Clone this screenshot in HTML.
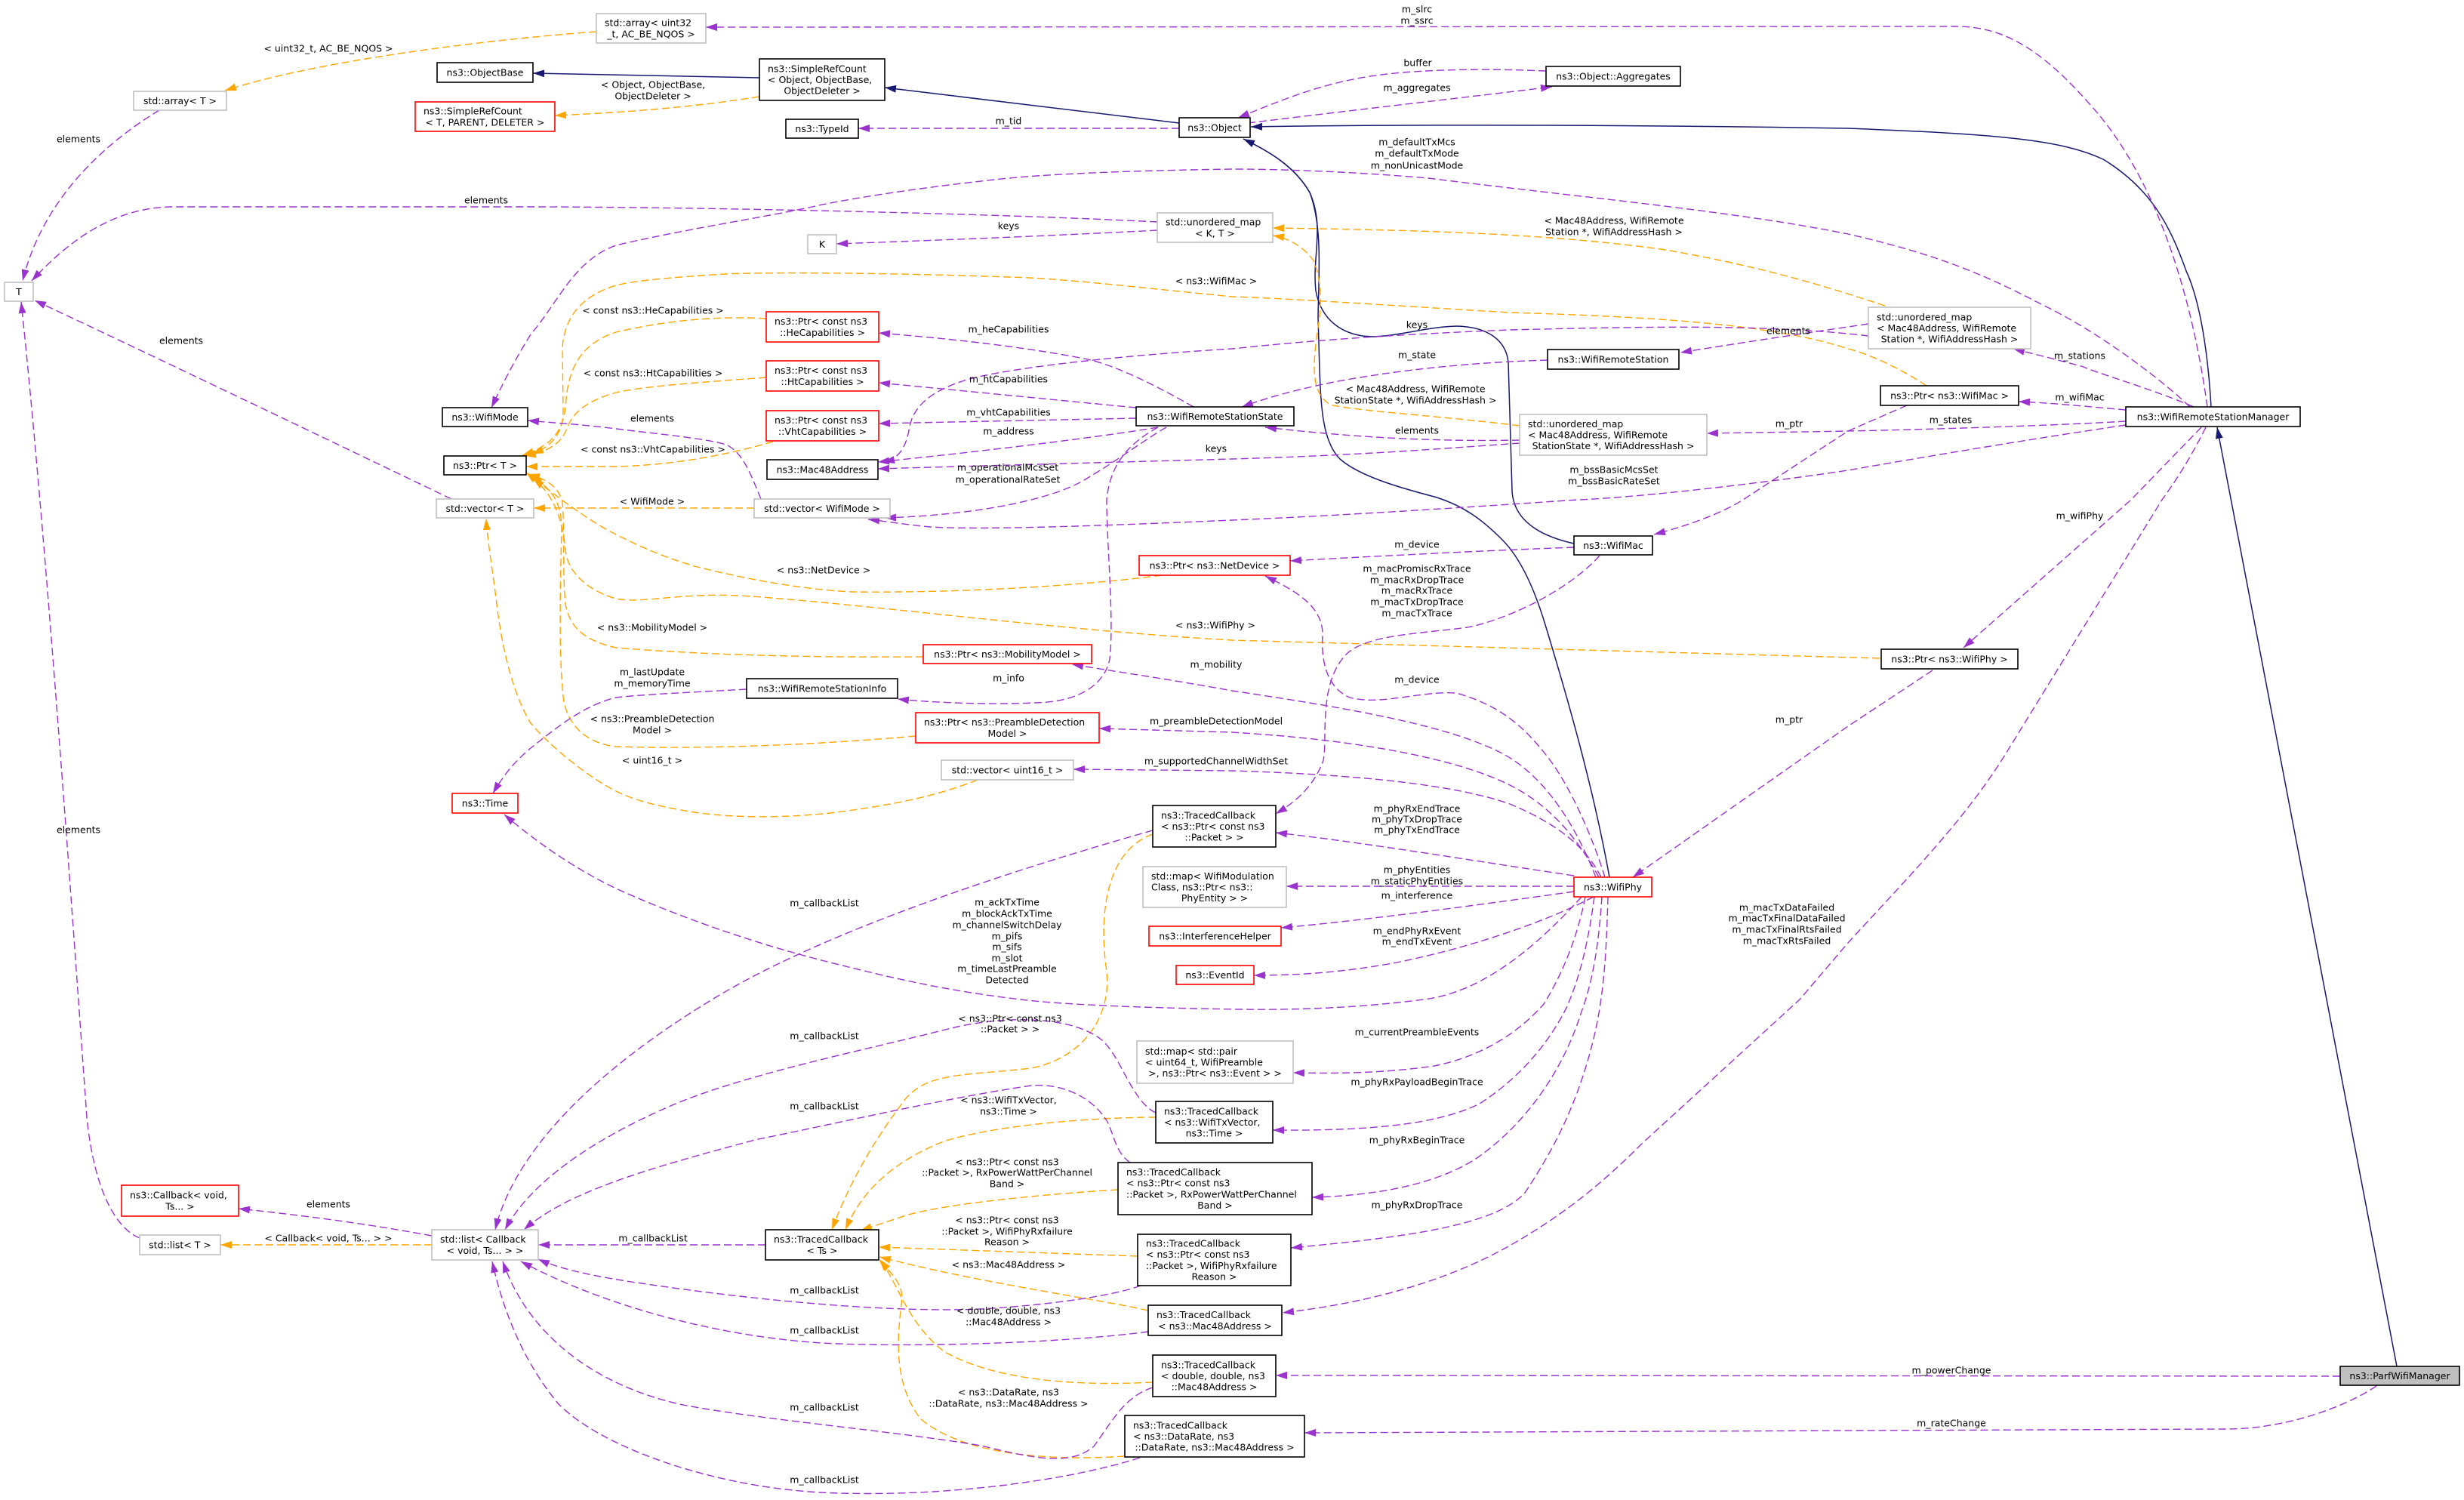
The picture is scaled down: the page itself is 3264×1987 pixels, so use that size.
<!DOCTYPE html>
<html><head><meta charset="utf-8"><style>
html,body{margin:0;padding:0;background:#fff;}
svg{display:block;}
text{font-family:"DejaVu Sans","Liberation Sans",sans-serif;font-size:12.5px;fill:#000;}
.c{text-anchor:middle;}
.s{text-anchor:start;}
.p{fill:none;stroke:#9a32cd;stroke-width:1.4;stroke-dasharray:10,5;marker-end:url(#ap);}
.o{fill:none;stroke:#ffa500;stroke-width:1.4;stroke-dasharray:10,5;marker-end:url(#ao);}
.n{fill:none;stroke:#191970;stroke-width:1.5;marker-end:url(#an);}
.nn{fill:none;stroke:#191970;stroke-width:1.5;}
.bk{fill:#fff;stroke:#000;stroke-width:1.6;}
.rd{fill:#fff;stroke:#ff0000;stroke-width:1.6;}
.gy{fill:#fff;stroke:#bfbfbf;stroke-width:1.6;}
.pf{fill:#bfbfbf;stroke:#000;stroke-width:1.6;}
</style></head><body>
<svg width="3264" height="1987" viewBox="0 0 3264 1987" xmlns="http://www.w3.org/2000/svg">
<defs>
<marker id="ap" viewBox="0 0 15 10" refX="15" refY="5" markerWidth="15" markerHeight="10" markerUnits="userSpaceOnUse" orient="auto"><path d="M0,0L15,5L0,10z" fill="#9a32cd"/></marker>
<marker id="ao" viewBox="0 0 15 10" refX="15" refY="5" markerWidth="15" markerHeight="10" markerUnits="userSpaceOnUse" orient="auto"><path d="M0,0L15,5L0,10z" fill="#ffa500"/></marker>
<marker id="an" viewBox="0 0 15 10" refX="15" refY="5" markerWidth="15" markerHeight="10" markerUnits="userSpaceOnUse" orient="auto"><path d="M0,0L15,5L0,10z" fill="#191970"/></marker>
</defs>
<rect x="0" y="0" width="3264" height="1987" fill="#fff"/>

<!-- ===== EDGES ===== -->
<!-- navy inheritance -->
<path class="n" d="M1006,103 L706,97"/>
<path class="n" d="M1562,163 L1172,116"/>
<path class="nn" d="M2085,720 C2040,710 2005,690 2003,650 L1998,480 C1995,450 1970,433 1930,432 C1890,433 1860,444 1820,446 C1780,446 1750,425 1743,385 C1738,340 1755,300 1735,255 C1715,220 1680,200 1647,184"/>
<path class="n" d="M2132,1162 C2110,1040 2075,920 2048,831 C2030,770 2010,735 1990,715 C1965,690 1940,670 1900,658 C1850,645 1800,630 1775,608 C1752,585 1750,540 1748,490 L1746,420 C1747,360 1752,300 1735,255 C1715,220 1680,200 1647,184"/>
<path class="n" d="M2929,539 C2925,470 2915,400 2896,359 C2875,300 2850,250 2786,211 C2730,185 2650,178 2448,170 C2200,166 1900,164 1657,168"/>
<path class="n" d="M3175,1810 L2937,566"/>

<!-- orange template edges -->
<path class="o" d="M1006,128 C900,145 800,150 735,153"/>
<path class="o" d="M790,42 C650,52 420,80 298,120"/>
<path class="o" d="M572,1649 L292,1649"/>
<path class="o" d="M999,673 L707,673"/>
<path class="o" d="M2497,405 C2450,390 2350,355 2200,330 C2050,310 1900,305 1686,302"/>
<path class="o" d="M2013,564 C1900,550 1800,545 1762,536 C1735,520 1740,480 1745,440 C1752,400 1750,370 1740,345 C1725,325 1705,315 1686,312"/>
<path class="o" d="M2552,511 C2520,490 2480,470 2448,462 C2350,430 2200,420 2000,414 C1800,402 1700,395 1632,393 C1500,380 1400,368 1336,367 C1200,362 1024,360 960,363 C880,368 840,372 816,378 C770,392 748,420 745,460 L746,540 C747,570 735,590 705,601"/>
<path class="o" d="M1015,422 C950,418 880,425 816,440 C780,452 755,475 750,528 C748,565 738,588 692,603"/>
<path class="o" d="M1015,500 C920,507 850,512 816,520 C780,530 760,545 752,565 C745,585 730,598 695,604"/>
<path class="o" d="M1024,585 C972,600 900,616 816,618 L697,618"/>
<path class="o" d="M1539,762 C1467,772 1300,786 1128,784 C1050,780 972,763 920,750 C870,735 840,720 816,708 C780,690 740,660 697,626"/>
<path class="o" d="M1223,870 C1100,871 950,869 816,858 C780,850 755,835 749,800 C745,760 748,700 745,665 C740,645 725,635 700,628"/>
<path class="o" d="M1213,975 C1100,985 950,993 816,989 C780,985 755,965 747,930 C740,880 742,780 744,700 C744,665 730,645 703,632"/>
<path class="o" d="M2490,872 L1632,848 C1400,835 1150,800 980,789 C900,785 850,800 816,793 C780,783 755,760 750,735 C746,700 740,660 706,634"/>
<path class="o" d="M1295,1033 C1240,1055 1180,1067 1100,1077 C1024,1085 960,1082 920,1076 C870,1068 840,1060 816,1048 C780,1030 730,990 703,958 C680,920 665,860 658,800 C652,750 646,720 644,687"/>
<path class="o" d="M1527,1105 C1470,1125 1455,1200 1465,1280 C1475,1340 1440,1400 1366,1415 C1280,1425 1230,1420 1200,1455 C1150,1520 1120,1580 1102,1629"/>
<path class="o" d="M1531,1480 C1450,1480 1320,1490 1250,1512 C1180,1540 1140,1580 1120,1629"/>
<path class="o" d="M1481,1576 C1380,1582 1250,1595 1200,1610 C1170,1620 1155,1625 1140,1630"/>
<path class="o" d="M1507,1664 L1164,1652"/>
<path class="o" d="M1521,1736 C1450,1720 1300,1700 1165,1665"/>
<path class="o" d="M1527,1831 C1430,1836 1320,1830 1250,1790 C1200,1750 1190,1700 1165,1668"/>
<path class="o" d="M1490,1929 C1400,1935 1280,1930 1220,1880 C1180,1830 1190,1760 1195,1720 C1195,1700 1180,1685 1165,1670"/>

<!-- purple member edges -->
<path class="p" d="M1562,170 L1137,170"/>
<path class="p" d="M2924,539 C2905,400 2860,240 2770,140 C2700,60 2650,35 2590,35 L935,36"/>
<path class="p" d="M211,146 C130,195 55,270 30,372"/>
<path class="p" d="M1533,294 C1300,282 900,274 700,274 L230,274 C150,274 90,320 42,372"/>
<path class="p" d="M598,661 C450,590 200,470 46,398"/>
<path class="p" d="M185,1640 C155,1628 125,1580 115,1480 C95,1200 60,700 28,400"/>
<path class="p" d="M1533,305 C1400,312 1250,318 1108,323"/>
<path class="p" d="M572,1637 C480,1620 400,1610 316,1601"/>
<path class="p" d="M1014,1649 L713,1649"/>
<path class="p" d="M1527,1100 C1350,1150 1100,1230 950,1320 C750,1440 675,1550 656,1629"/>
<path class="p" d="M1531,1474 C1500,1460 1485,1400 1460,1378 C1420,1345 1330,1345 1260,1362 C1150,1390 1000,1420 900,1460 C780,1510 700,1570 669,1629"/>
<path class="p" d="M1497,1540 C1475,1525 1475,1495 1463,1480 C1440,1448 1400,1435 1366,1438 C1250,1455 1100,1490 1000,1510 C850,1550 750,1580 694,1629"/>
<path class="p" d="M1511,1703 C1480,1715 1400,1728 1300,1734 C1150,1740 950,1715 850,1700 C780,1690 740,1680 713,1668"/>
<path class="p" d="M1521,1764 C1400,1780 1200,1785 1088,1779 C950,1770 800,1730 690,1671"/>
<path class="p" d="M1527,1838 C1490,1850 1475,1880 1449,1916 C1420,1940 1380,1935 1300,1915 C1180,1895 1000,1880 900,1860 C790,1835 700,1770 666,1671"/>
<path class="p" d="M1510,1931 C1420,1960 1250,1985 1088,1977 C950,1970 800,1920 740,1860 C690,1800 665,1730 652,1671"/>
<path class="p" d="M2085,1160 C1950,1140 1800,1115 1690,1103"/>
<path class="p" d="M2119,736 C2080,780 2000,820 1944,831 C1880,840 1800,840 1778,873 C1745,915 1760,990 1752,1010 C1740,1040 1720,1060 1690,1078"/>
<path class="p" d="M2085,1174 L1704,1174"/>
<path class="p" d="M2085,1181 C1950,1200 1800,1220 1697,1229"/>
<path class="p" d="M2111,1188 C2050,1220 1950,1255 1850,1275 C1780,1288 1720,1292 1661,1292"/>
<path class="p" d="M2100,1188 C2090,1240 2070,1290 2045,1330 C2010,1370 1960,1400 1900,1412 C1830,1422 1770,1422 1713,1421"/>
<path class="p" d="M2112,1188 C2105,1240 2095,1290 2075,1335 C2050,1385 2010,1430 1960,1462 C1900,1492 1800,1498 1686,1497"/>
<path class="p" d="M2122,1188 C2118,1250 2110,1300 2095,1340 C2070,1420 2020,1490 1955,1535 C1900,1570 1820,1584 1738,1586"/>
<path class="p" d="M2130,1188 C2128,1260 2125,1320 2110,1380 C2090,1460 2060,1520 2020,1580 C1980,1625 1850,1640 1710,1653"/>
<path class="p" d="M2095,1188 C2030,1260 1960,1315 1886,1324 C1800,1335 1720,1338 1643,1337 C1500,1335 1400,1330 1352,1324 C1250,1312 1180,1295 1100,1275 C1000,1250 900,1215 816,1177 C760,1150 710,1115 668,1079"/>
<path class="p" d="M2121,1162 C2100,1120 2060,1090 2000,1065 C1930,1040 1800,1026 1632,1021 L1422,1019"/>
<path class="p" d="M2118,1162 C2095,1120 2060,1070 2000,1040 C1930,1005 1800,980 1632,970 L1456,965"/>
<path class="p" d="M2114,1162 C2090,1100 2050,1030 1990,998 C1920,962 1800,940 1632,915 C1550,900 1480,890 1420,880"/>
<path class="p" d="M2126,1162 C2110,1110 2080,1040 2048,1000 C2020,965 1990,935 1929,918 C1880,915 1830,935 1788,924 C1755,910 1750,870 1752,840 C1752,800 1710,780 1676,763"/>
<path class="p" d="M2085,725 C1950,730 1800,738 1709,743"/>
<path class="p" d="M3100,1823 L1690,1822"/>
<path class="p" d="M3148,1836 C3100,1868 3020,1893 2950,1893 L1728,1898"/>
<path class="p" d="M2922,566 C2900,610 2880,640 2864,662 L2656,1000 C2600,1090 2520,1170 2448,1249 L2384,1324 L2176,1514 C2120,1570 2070,1610 2000,1650 C1920,1695 1820,1725 1699,1739"/>
<path class="p" d="M2916,566 L2823,662 L2601,858"/>
<path class="p" d="M2560,888 L2448,962 L2163,1162"/>
<path class="p" d="M2475,429 C2400,440 2300,455 2226,467"/>
<path class="p" d="M2013,583 C1900,585 1800,580 1676,566"/>
<path class="p" d="M2013,587 C1900,595 1800,603 1632,608 C1450,613 1300,617 1163,621"/>
<path class="p" d="M2475,445 C2350,430 2200,432 2000,437 C1800,445 1700,455 1632,462 C1500,470 1350,485 1284,502 C1230,518 1210,540 1205,565 C1200,595 1190,608 1170,612"/>
<path class="p" d="M2050,477 C1950,480 1850,490 1762,507 C1700,520 1670,530 1645,539"/>
<path class="p" d="M1581,539 C1530,510 1480,485 1441,476 C1350,458 1250,448 1164,441"/>
<path class="p" d="M1505,540 C1400,530 1280,518 1164,507"/>
<path class="p" d="M1505,554 L1164,561"/>
<path class="p" d="M1534,566 C1450,580 1300,598 1163,612"/>
<path class="p" d="M1545,566 C1520,580 1480,610 1441,633 C1400,660 1300,682 1172,686"/>
<path class="p" d="M1534,566 C1490,590 1470,620 1466,662 C1466,720 1476,820 1470,873 C1465,900 1440,925 1388,930 C1330,934 1250,932 1189,926"/>
<path class="p" d="M989,913 C900,918 850,920 816,924 C770,935 730,970 703,991 C680,1010 665,1030 653,1051"/>
<path class="p" d="M2901,539 C2860,500 2780,440 2708,405 C2640,370 2580,340 2448,310 C2300,280 2100,262 1892,236 C1800,228 1700,224 1632,224 C1500,226 1400,230 1336,236 C1200,250 1100,268 1076,274 C1000,290 900,305 816,325 C760,345 740,400 703,443 C680,480 665,510 651,540"/>
<path class="p" d="M1008,661 C995,630 985,600 962,589 C930,580 880,576 816,568 C770,562 730,560 699,557"/>
<path class="p" d="M2816,563 C2700,580 2550,605 2448,623 C2300,645 2150,660 2090,662 C2000,668 1800,682 1632,689 C1450,697 1300,702 1232,698 C1200,695 1170,690 1150,688"/>
<path class="p" d="M2816,558 C2700,565 2500,570 2448,571 C2400,572 2320,573 2261,574"/>
<path class="p" d="M2816,543 C2760,538 2720,534 2674,532"/>
<path class="p" d="M2906,539 C2850,515 2780,495 2760,486 C2720,475 2690,468 2667,462"/>
<path class="p" d="M2526,537 L2448,571 L2309,662 C2280,680 2240,695 2191,708"/>
<path class="p" d="M1653,163 C1800,145 1950,128 2056,115"/>
<path class="p" d="M2048,94 C1950,90 1850,92 1788,106 C1730,118 1680,140 1640,156"/>

<!-- ===== NODES ===== -->
<rect class="gy" x="790" y="18" width="145" height="39"/>
<text class="s" x="801" y="34.7">std::array&lt; uint32</text><text class="c" x="862.5" y="49.3">_t, AC_BE_NQOS &gt;</text>

<rect class="gy" x="177" y="121" width="123" height="25"/>
<text class="c" x="238.5" y="138">std::array&lt; T &gt;</text>

<rect class="bk" x="579" y="83" width="127" height="26"/>
<text class="c" x="642.5" y="100.5">ns3::ObjectBase</text>

<rect class="rd" x="550" y="135" width="185" height="39"/>
<text class="s" x="561" y="151.7">ns3::SimpleRefCount</text><text class="c" x="642.5" y="166.3">&lt; T, PARENT, DELETER &gt;</text>

<rect class="bk" x="1006" y="78" width="166" height="55"/>
<text class="s" x="1017" y="95.4">ns3::SimpleRefCount</text><text class="s" x="1017" y="110">&lt; Object, ObjectBase,</text><text class="c" x="1089" y="124.6">ObjectDeleter &gt;</text>

<rect class="bk" x="1041" y="158" width="96" height="25"/>
<text class="c" x="1089" y="175">ns3::TypeId</text>

<rect class="bk" x="1562" y="156" width="94" height="26"/>
<text class="c" x="1609" y="173.5">ns3::Object</text>

<rect class="bk" x="2048" y="88" width="178" height="26"/>
<text class="c" x="2137" y="105.5">ns3::Object::Aggregates</text>

<rect class="gy" x="6" y="374" width="38" height="25"/>
<text class="c" x="25" y="391">T</text>

<rect class="gy" x="1070" y="311" width="38" height="25"/>
<text class="c" x="1089" y="328">K</text>

<rect class="gy" x="1533" y="282" width="153" height="39"/>
<text class="s" x="1544" y="298.7">std::unordered_map</text><text class="c" x="1609.5" y="313.3">&lt; K, T &gt;</text>

<rect class="gy" x="2475" y="407" width="215" height="55"/>
<text class="s" x="2486" y="424.4">std::unordered_map</text><text class="s" x="2486" y="439">&lt; Mac48Address, WifiRemote</text><text class="c" x="2582.5" y="453.6">Station *, WifiAddressHash &gt;</text>

<rect class="bk" x="2050" y="463" width="174" height="26"/>
<text class="c" x="2137" y="480.5">ns3::WifiRemoteStation</text>

<rect class="bk" x="2491" y="511" width="183" height="26"/>
<text class="c" x="2582.5" y="528.5">ns3::Ptr&lt; ns3::WifiMac &gt;</text>

<rect class="bk" x="2816" y="539" width="231" height="26"/>
<text class="c" x="2931.5" y="556.5">ns3::WifiRemoteStationManager</text>

<rect class="gy" x="2013" y="549" width="248" height="54"/>
<text class="s" x="2024" y="565.9">std::unordered_map</text><text class="s" x="2024" y="580.5">&lt; Mac48Address, WifiRemote</text><text class="c" x="2137" y="595.1">StationState *, WifiAddressHash &gt;</text>

<rect class="bk" x="1505" y="539" width="209" height="25"/>
<text class="c" x="1609.5" y="556">ns3::WifiRemoteStationState</text>

<rect class="rd" x="1015" y="413" width="149" height="40"/>
<text class="s" x="1026" y="430.2">ns3::Ptr&lt; const ns3</text><text class="c" x="1089.5" y="444.8">::HeCapabilities &gt;</text>

<rect class="rd" x="1015" y="478" width="149" height="40"/>
<text class="s" x="1026" y="495.2">ns3::Ptr&lt; const ns3</text><text class="c" x="1089.5" y="509.8">::HtCapabilities &gt;</text>

<rect class="rd" x="1015" y="544" width="149" height="40"/>
<text class="s" x="1026" y="561.2">ns3::Ptr&lt; const ns3</text><text class="c" x="1089.5" y="575.8">::VhtCapabilities &gt;</text>

<rect class="bk" x="1016" y="609" width="147" height="26"/>
<text class="c" x="1089.5" y="626.5">ns3::Mac48Address</text>

<rect class="bk" x="586" y="540" width="113" height="25"/>
<text class="c" x="642.5" y="557">ns3::WifiMode</text>

<rect class="bk" x="588" y="604" width="109" height="25"/>
<text class="c" x="642.5" y="621">ns3::Ptr&lt; T &gt;</text>

<rect class="gy" x="578" y="661" width="129" height="25"/>
<text class="c" x="642.5" y="678">std::vector&lt; T &gt;</text>

<rect class="gy" x="999" y="661" width="180" height="25"/>
<text class="c" x="1089" y="678">std::vector&lt; WifiMode &gt;</text>

<rect class="rd" x="1509" y="736" width="200" height="26"/>
<text class="c" x="1609" y="753.5">ns3::Ptr&lt; ns3::NetDevice &gt;</text>

<rect class="bk" x="2085" y="710" width="104" height="25"/>
<text class="c" x="2137" y="727">ns3::WifiMac</text>

<rect class="bk" x="2492" y="860" width="181" height="26"/>
<text class="c" x="2582.5" y="877.5">ns3::Ptr&lt; ns3::WifiPhy &gt;</text>

<rect class="rd" x="1223" y="854" width="223" height="25"/>
<text class="c" x="1334.5" y="871">ns3::Ptr&lt; ns3::MobilityModel &gt;</text>

<rect class="bk" x="989" y="899" width="200" height="26"/>
<text class="c" x="1089" y="916.5">ns3::WifiRemoteStationInfo</text>

<rect class="rd" x="1213" y="944" width="243" height="40"/>
<text class="s" x="1224" y="961.2">ns3::Ptr&lt; ns3::PreambleDetection</text><text class="c" x="1334.5" y="975.8">Model &gt;</text>

<rect class="gy" x="1247" y="1007" width="175" height="26"/>
<text class="c" x="1334.5" y="1024.5">std::vector&lt; uint16_t &gt;</text>

<rect class="rd" x="599" y="1051" width="87" height="26"/>
<text class="c" x="642.5" y="1068.5">ns3::Time</text>

<rect class="bk" x="1527" y="1067" width="163" height="55"/>
<text class="s" x="1538" y="1084.4">ns3::TracedCallback</text><text class="s" x="1538" y="1099">&lt; ns3::Ptr&lt; const ns3</text><text class="c" x="1608.5" y="1113.6">::Packet &gt; &gt;</text>

<rect class="gy" x="1514" y="1148" width="190" height="54"/>
<text class="s" x="1525" y="1164.9">std::map&lt; WifiModulation</text><text class="s" x="1525" y="1179.5">Class, ns3::Ptr&lt; ns3::</text><text class="c" x="1609" y="1194.1">PhyEntity &gt; &gt;</text>

<rect class="rd" x="1522" y="1227" width="175" height="26"/>
<text class="c" x="1609.5" y="1244.5">ns3::InterferenceHelper</text>

<rect class="rd" x="1558" y="1279" width="103" height="25"/>
<text class="c" x="1609.5" y="1296">ns3::EventId</text>

<rect class="rd" x="2085" y="1162" width="103" height="26"/>
<text class="c" x="2136.5" y="1179.5">ns3::WifiPhy</text>

<rect class="gy" x="1506" y="1379" width="207" height="56"/>
<text class="s" x="1517" y="1396.9">std::map&lt; std::pair</text><text class="s" x="1517" y="1411.5">&lt; uint64_t, WifiPreamble</text><text class="c" x="1609.5" y="1426.1">&gt;, ns3::Ptr&lt; ns3::Event &gt; &gt;</text>

<rect class="bk" x="1531" y="1459" width="155" height="55"/>
<text class="s" x="1542" y="1476.4">ns3::TracedCallback</text><text class="s" x="1542" y="1491">&lt; ns3::WifiTxVector,</text><text class="c" x="1608.5" y="1505.6">ns3::Time &gt;</text>

<rect class="bk" x="1481" y="1540" width="257" height="69"/>
<text class="s" x="1492" y="1557.1">ns3::TracedCallback</text><text class="s" x="1492" y="1571.7">&lt; ns3::Ptr&lt; const ns3</text><text class="s" x="1492" y="1586.3">::Packet &gt;, RxPowerWattPerChannel</text><text class="c" x="1609.5" y="1600.9">Band &gt;</text>

<rect class="bk" x="1507" y="1635" width="203" height="68"/>
<text class="s" x="1518" y="1651.6">ns3::TracedCallback</text><text class="s" x="1518" y="1666.2">&lt; ns3::Ptr&lt; const ns3</text><text class="s" x="1518" y="1680.8">::Packet &gt;, WifiPhyRxfailure</text><text class="c" x="1608.5" y="1695.4">Reason &gt;</text>

<rect class="bk" x="1014" y="1629" width="150" height="40"/>
<text class="s" x="1025" y="1646.2">ns3::TracedCallback</text><text class="c" x="1089" y="1660.8">&lt; Ts &gt;</text>

<rect class="gy" x="572" y="1629" width="141" height="40"/>
<text class="s" x="583" y="1646.2">std::list&lt; Callback</text><text class="c" x="642.5" y="1660.8">&lt; void, Ts... &gt; &gt;</text>

<rect class="rd" x="161" y="1570" width="155" height="41"/>
<text class="s" x="172" y="1587.7">ns3::Callback&lt; void,</text><text class="c" x="238.5" y="1602.3">Ts... &gt;</text>

<rect class="gy" x="185" y="1636" width="107" height="26"/>
<text class="c" x="238.5" y="1653.5">std::list&lt; T &gt;</text>

<rect class="bk" x="1521" y="1729" width="177" height="40"/>
<text class="s" x="1532" y="1746.2">ns3::TracedCallback</text><text class="c" x="1609.5" y="1760.8">&lt; ns3::Mac48Address &gt;</text>

<rect class="bk" x="1527" y="1795" width="163" height="55"/>
<text class="s" x="1538" y="1812.4">ns3::TracedCallback</text><text class="s" x="1538" y="1827">&lt; double, double, ns3</text><text class="c" x="1608.5" y="1841.6">::Mac48Address &gt;</text>

<rect class="bk" x="1490" y="1875" width="238" height="55"/>
<text class="s" x="1501" y="1892.4">ns3::TracedCallback</text><text class="s" x="1501" y="1907">&lt; ns3::DataRate, ns3</text><text class="c" x="1609" y="1921.6">::DataRate, ns3::Mac48Address &gt;</text>

<rect class="pf" x="3100" y="1810" width="158" height="25"/>
<text class="c" x="3179" y="1827">ns3::ParfWifiManager</text>

<!-- ===== EDGE LABELS ===== -->
<g class="lbl">
<text class="c" x="435" y="68.5">&lt; uint32_t, AC_BE_NQOS &gt;</text>
<text class="c" x="104" y="188.5">elements</text>
<text class="c" x="865" y="116.5">&lt; Object, ObjectBase,</text>
<text class="c" x="865" y="131.5">ObjectDeleter &gt;</text>
<text class="c" x="1336" y="164.5">m_tid</text>
<text class="c" x="1877" y="16.5">m_slrc</text>
<text class="c" x="1877" y="31.5">m_ssrc</text>
<text class="c" x="1878" y="87.5">buffer</text>
<text class="c" x="1877" y="120.5">m_aggregates</text>
<text class="c" x="1877" y="192.5">m_defaultTxMcs</text>
<text class="c" x="1877" y="207.5">m_defaultTxMode</text>
<text class="c" x="1877" y="223.5">m_nonUnicastMode</text>
<text class="c" x="644" y="269.5">elements</text>
<text class="c" x="1336" y="303.5">keys</text>
<text class="c" x="2138" y="296.5">&lt; Mac48Address, WifiRemote</text>
<text class="c" x="2138" y="311.5">Station *, WifiAddressHash &gt;</text>
<text class="c" x="1611" y="376.5">&lt; ns3::WifiMac &gt;</text>
<text class="c" x="865" y="415.5">&lt; const ns3::HeCapabilities &gt;</text>
<text class="c" x="1336" y="440.5">m_heCapabilities</text>
<text class="c" x="1877" y="434.5">keys</text>
<text class="c" x="2369" y="442.5">elements</text>
<text class="c" x="240" y="455.5">elements</text>
<text class="c" x="2755" y="475.5">m_stations</text>
<text class="c" x="1877" y="474.5">m_state</text>
<text class="c" x="865" y="498.5">&lt; const ns3::HtCapabilities &gt;</text>
<text class="c" x="1336" y="506.5">m_htCapabilities</text>
<text class="c" x="1875" y="519.5">&lt; Mac48Address, WifiRemote</text>
<text class="c" x="1875" y="534.5">StationState *, WifiAddressHash &gt;</text>
<text class="c" x="2755" y="530.5">m_wifiMac</text>
<text class="c" x="1336" y="550.5">m_vhtCapabilities</text>
<text class="c" x="864" y="558.5">elements</text>
<text class="c" x="2584" y="560.5">m_states</text>
<text class="c" x="2370" y="565.5">m_ptr</text>
<text class="c" x="1877" y="574.5">elements</text>
<text class="c" x="1336" y="575.5">m_address</text>
<text class="c" x="865" y="599.5">&lt; const ns3::VhtCapabilities &gt;</text>
<text class="c" x="1611" y="598.5">keys</text>
<text class="c" x="1335" y="623.5">m_operationalMcsSet</text>
<text class="c" x="1335" y="639.5">m_operationalRateSet</text>
<text class="c" x="2138" y="626.5">m_bssBasicMcsSet</text>
<text class="c" x="2138" y="641.5">m_bssBasicRateSet</text>
<text class="c" x="864" y="668.5">&lt; WifiMode &gt;</text>
<text class="c" x="2755" y="687.5">m_wifiPhy</text>
<text class="c" x="1877" y="725.5">m_device</text>
<text class="c" x="1877" y="757.5">m_macPromiscRxTrace</text>
<text class="c" x="1877" y="772.5">m_macRxDropTrace</text>
<text class="c" x="1877" y="786.5">m_macRxTrace</text>
<text class="c" x="1877" y="801.5">m_macTxDropTrace</text>
<text class="c" x="1877" y="816.5">m_macTxTrace</text>
<text class="c" x="1091" y="759.5">&lt; ns3::NetDevice &gt;</text>
<text class="c" x="1610" y="832.5">&lt; ns3::WifiPhy &gt;</text>
<text class="c" x="864" y="835.5">&lt; ns3::MobilityModel &gt;</text>
<text class="c" x="1611" y="884.5">m_mobility</text>
<text class="c" x="864" y="894.5">m_lastUpdate</text>
<text class="c" x="864" y="909.5">m_memoryTime</text>
<text class="c" x="1336" y="902.5">m_info</text>
<text class="c" x="1877" y="904.5">m_device</text>
<text class="c" x="864" y="956.5">&lt; ns3::PreambleDetection</text>
<text class="c" x="864" y="971.5">Model &gt;</text>
<text class="c" x="2370" y="957.5">m_ptr</text>
<text class="c" x="1611" y="959.5">m_preambleDetectionModel</text>
<text class="c" x="864" y="1011.5">&lt; uint16_t &gt;</text>
<text class="c" x="1611" y="1012.5">m_supportedChannelWidthSet</text>
<text class="c" x="1877" y="1075.5">m_phyRxEndTrace</text>
<text class="c" x="1877" y="1089.5">m_phyTxDropTrace</text>
<text class="c" x="1877" y="1103.5">m_phyTxEndTrace</text>
<text class="c" x="104" y="1103.5">elements</text>
<text class="c" x="1877" y="1156.5">m_phyEntities</text>
<text class="c" x="1877" y="1171.5">m_staticPhyEntities</text>
<text class="c" x="1877" y="1190.5">m_interference</text>
<text class="c" x="1092" y="1200.5">m_callbackList</text>
<text class="c" x="1334" y="1199.5">m_ackTxTime</text>
<text class="c" x="1334" y="1214.5">m_blockAckTxTime</text>
<text class="c" x="1334" y="1229.5">m_channelSwitchDelay</text>
<text class="c" x="1334" y="1244.5">m_pifs</text>
<text class="c" x="1334" y="1258.5">m_sifs</text>
<text class="c" x="1334" y="1273.5">m_slot</text>
<text class="c" x="1334" y="1287.5">m_timeLastPreamble</text>
<text class="c" x="1334" y="1302.5">Detected</text>
<text class="c" x="2367" y="1206.5">m_macTxDataFailed</text>
<text class="c" x="2367" y="1220.5">m_macTxFinalDataFailed</text>
<text class="c" x="2367" y="1235.5">m_macTxFinalRtsFailed</text>
<text class="c" x="2367" y="1250.5">m_macTxRtsFailed</text>
<text class="c" x="1877" y="1237.5">m_endPhyRxEvent</text>
<text class="c" x="1877" y="1251.5">m_endTxEvent</text>
<text class="c" x="1338" y="1353.5">&lt; ns3::Ptr&lt; const ns3</text>
<text class="c" x="1338" y="1367.5">::Packet &gt; &gt;</text>
<text class="c" x="1877" y="1371.5">m_currentPreambleEvents</text>
<text class="c" x="1092" y="1376.5">m_callbackList</text>
<text class="c" x="1877" y="1437.5">m_phyRxPayloadBeginTrace</text>
<text class="c" x="1336" y="1461.5">&lt; ns3::WifiTxVector,</text>
<text class="c" x="1336" y="1476.5">ns3::Time &gt;</text>
<text class="c" x="1092" y="1469.5">m_callbackList</text>
<text class="c" x="1877" y="1514.5">m_phyRxBeginTrace</text>
<text class="c" x="1334" y="1543.5">&lt; ns3::Ptr&lt; const ns3</text>
<text class="c" x="1334" y="1557.5">::Packet &gt;, RxPowerWattPerChannel</text>
<text class="c" x="1334" y="1572.5">Band &gt;</text>
<text class="c" x="435" y="1599.5">elements</text>
<text class="c" x="1877" y="1600.5">m_phyRxDropTrace</text>
<text class="c" x="1334" y="1620.5">&lt; ns3::Ptr&lt; const ns3</text>
<text class="c" x="1334" y="1635.5">::Packet &gt;, WifiPhyRxfailure</text>
<text class="c" x="1334" y="1649.5">Reason &gt;</text>
<text class="c" x="435" y="1644.5">&lt; Callback&lt; void, Ts... &gt; &gt;</text>
<text class="c" x="865" y="1644.5">m_callbackList</text>
<text class="c" x="1336" y="1679.5">&lt; ns3::Mac48Address &gt;</text>
<text class="c" x="1092" y="1713.5">m_callbackList</text>
<text class="c" x="1336" y="1740.5">&lt; double, double, ns3</text>
<text class="c" x="1336" y="1755.5">::Mac48Address &gt;</text>
<text class="c" x="1092" y="1766.5">m_callbackList</text>
<text class="c" x="2585" y="1819.5">m_powerChange</text>
<text class="c" x="1336" y="1848.5">&lt; ns3::DataRate, ns3</text>
<text class="c" x="1336" y="1863.5">::DataRate, ns3::Mac48Address &gt;</text>
<text class="c" x="1092" y="1868.5">m_callbackList</text>
<text class="c" x="2585" y="1889.5">m_rateChange</text>
<text class="c" x="1092" y="1964.5">m_callbackList</text>
</g>
</svg>
</body></html>
